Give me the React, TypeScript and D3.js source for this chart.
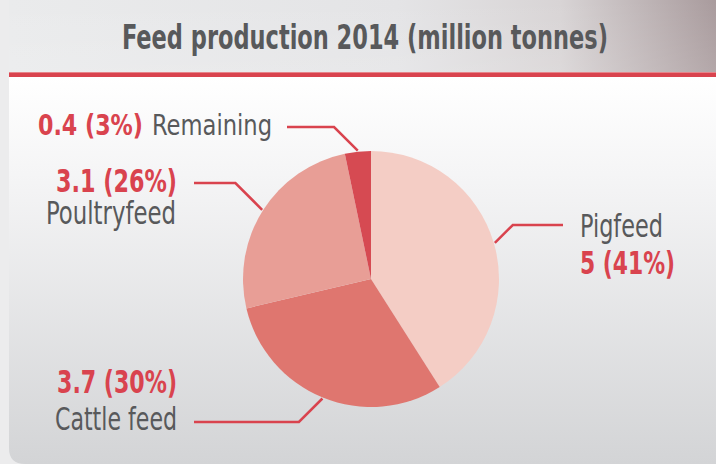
import React from "react";
import * as d3 from "d3";

const categories = ["Pigfeed", "Cattle feed", "Poultryfeed", "Remaining"];
const values = [5, 3.7, 3.1, 0.4];
const percents = ["41%", "30%", "26%", "3%"];
const colors = ["#f4cdc5", "#df766f", "#e89e96", "#d64a52"];
const title = "Feed production 2014 (million tonnes)";

// label layout (positions only)
const layout = [
  { lineY: 225, lineEnd: 563, nameX: 580, nameY: 237, nameW: 83, valX: 580, valY: 274, valW: 95, size: 32, anchor: "start", order: "nameFirst" },
  { lineY: 422, lineEnd: 194, nameX: 55, nameY: 430, nameW: 122, valX: 57, valY: 393, valW: 120, size: 32, anchor: "start", order: "valFirst" },
  { lineY: 183, lineEnd: 194, nameX: 46, nameY: 224, nameW: 130, valX: 56, valY: 192, valW: 121, size: 32, anchor: "start", order: "valFirst" },
  { lineY: 127, lineEnd: 287, nameX: 152, nameY: 135, nameW: 120, valX: 38, valY: 135, valW: 105, size: 29, anchor: "start", order: "inline" },
];

const W = 716;
const H = 464;
const cx = 371;
const cy = 279;
const R = 128;
const RED = "#d9434e";
const GRAY = "#58595b";
const FONT = "'Liberation Sans Narrow', 'DejaVu Sans Condensed', 'Roboto Condensed', sans-serif";

export default function App() {
  const pie = d3
    .pie<number>()
    .sort(null)
    .value((d) => d)
    .startAngle(0)
    .endAngle(2 * Math.PI);
  const arcs = pie(values);
  const arc = d3.arc<d3.PieArcDatum<number>>().innerRadius(0).outerRadius(R);

  const bodyPath = (() => {
    const p = d3.path();
    const x0 = 9, y0 = 77, r = 16;
    p.moveTo(x0, y0);
    p.lineTo(W, y0);
    p.lineTo(W, H);
    p.lineTo(x0 + r, H);
    p.quadraticCurveTo(x0, H, x0, H - r);
    p.closePath();
    return p.toString();
  })();

  return (
    <svg width={W} height={H} style={{ position: "absolute", left: 0, top: 0 }}>
      <defs>
        <linearGradient id="hdr" x1="0" y1="0" x2="1" y2="0">
          <stop offset="0" stopColor="#eaebec" />
          <stop offset="0.55" stopColor="#e4e4e6" />
          <stop offset="0.78" stopColor="#d8d4d5" />
          <stop offset="1" stopColor="#a99b9d" />
        </linearGradient>
        <linearGradient id="hdrV" x1="0" y1="0" x2="0" y2="1">
          <stop offset="0" stopColor="#ffffff" stopOpacity="0" />
          <stop offset="1" stopColor="#ffffff" stopOpacity="0.12" />
        </linearGradient>
        <linearGradient id="body" x1="0" y1="0" x2="0" y2="1">
          <stop offset="0" stopColor="#ffffff" />
          <stop offset="0.25" stopColor="#f5f5f6" />
          <stop offset="1" stopColor="#d3d4d6" />
        </linearGradient>
      </defs>
      <rect x={0} y={0} width={W} height={H} fill="#ececed" />
      <rect x={9} y={0} width={W - 9} height={72} fill="url(#hdr)" />
      <rect x={9} y={0} width={W - 9} height={72} fill="url(#hdrV)" />
      <path d={bodyPath} fill="url(#body)" />
      <rect x={9} y={72} width={W - 9} height={5} fill={RED} />
      <rect x={9} y={72} width={W - 9} height={1} fill="#e6858a" />

      <text
        x={122}
        y={49}
        fontFamily={FONT}
        fontWeight="bold"
        fontSize={34}
        fill={GRAY}
        textLength={486}
        lengthAdjust="spacingAndGlyphs"
      >
        {title}
      </text>

      <g transform={`translate(${cx},${cy})`}>
        {arcs.map((a, i) => (
          <path key={categories[i]} d={arc(a) || ""} fill={colors[i]} />
        ))}
      </g>

      {arcs.map((a, i) => {
        const L = layout[i];
        const mid = (a.startAngle + a.endAngle) / 2;
        const ex = cx + Math.sin(mid) * (R + 1);
        const ey = cy - Math.cos(mid) * (R + 1);
        const dy = L.lineY - ey;
        const side = Math.sin(mid) >= 0 ? 1 : -1;
        const bx = ex + side * Math.abs(dy);
        const pts: [number, number][] = [
          [ex, ey],
          [bx, L.lineY],
          [L.lineEnd, L.lineY],
        ];
        const valText = `${values[i]} (${percents[i]})`;
        return (
          <g key={"lbl" + i}>
            <path d={d3.line()(pts) || ""} fill="none" stroke={RED} strokeWidth={2.5} />
            <text
              x={L.valX}
              y={L.valY}
              fontFamily={FONT}
              fontWeight="bold"
              fontSize={L.size}
              fill={RED}
              textLength={L.valW}
              lengthAdjust="spacingAndGlyphs"
            >
              {valText}
            </text>
            <text
              x={L.nameX}
              y={L.nameY}
              fontFamily={FONT}
              fontSize={L.size}
              fill={GRAY}
              textLength={L.nameW}
              lengthAdjust="spacingAndGlyphs"
            >
              {categories[i]}
            </text>
          </g>
        );
      })}
    </svg>
  );
}
